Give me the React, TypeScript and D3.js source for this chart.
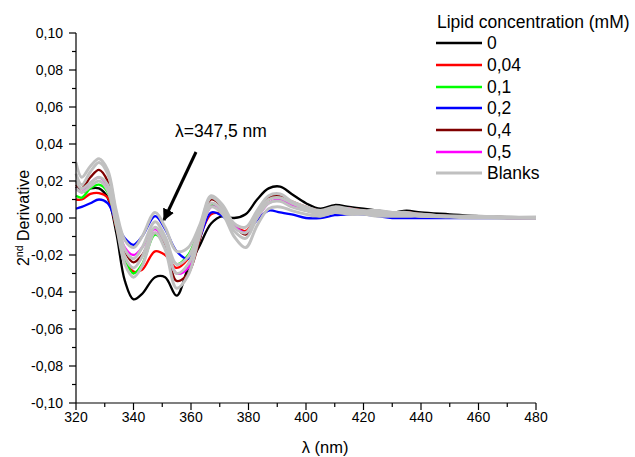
import React from "react";
import * as d3 from "d3";

const wavelengths = [320, 322, 325, 328, 331, 334, 337, 340, 343, 347.5, 351, 355, 359, 363, 367, 371, 375, 379, 383, 387, 391, 395, 400, 405, 410, 415, 420, 425, 430, 435, 440, 450, 460, 470, 480];

const black0 = [0.017, 0.014, 0.016, 0.016, 0.011, -0.008, -0.034, -0.044, -0.041, -0.032, -0.032, -0.042, -0.027, -0.015, -0.003, 0.001, 0.000, 0.002, 0.010, 0.016, 0.017, 0.013, 0.008, 0.005, 0.007, 0.006, 0.005, 0.004, 0.003, 0.004, 0.003, 0.002, 0.001, 0.0005, 0.0005];
const red004 = [0.010, 0.010, 0.013, 0.0135, 0.011, -0.005, -0.022, -0.029, -0.028, -0.018, -0.020, -0.027, -0.022, -0.010, 0.002, 0.002, -0.004, -0.007, 0.002, 0.010, 0.012, 0.009, 0.006, 0.004, 0.005, 0.005, 0.004, 0.003, 0.003, 0.003, 0.002, 0.001, 0.001, 0, 0];
const green01 = [0.012, 0.011, 0.016, 0.018, 0.014, -0.004, -0.022, -0.030, -0.025, -0.009, -0.014, -0.025, -0.020, -0.006, 0.007, 0.004, -0.004, -0.008, 0.001, 0.010, 0.011, 0.007, 0.004, 0.003, 0.004, 0.004, 0.003, 0.003, 0.002, 0.002, 0.001, 0.001, 0.0005, 0, 0];
const blue02 = [0.005, 0.006, 0.008, 0.010, 0.008, -0.002, -0.011, -0.0145, -0.010, 0.001, -0.006, -0.018, -0.022, -0.011, 0.003, 0.001, -0.005, -0.008, -0.001, 0.004, 0.003, 0.002, 0.000, 0.000, 0.0015, 0.002, 0.002, 0.001, 0, 0, 0, 0, 0, 0, 0];
const darkred04 = [0.018, 0.016, 0.022, 0.026, 0.020, 0.000, -0.018, -0.024, -0.020, -0.008, -0.015, -0.034, -0.030, -0.012, 0.010, 0.006, -0.004, -0.009, 0.001, 0.011, 0.012, 0.008, 0.005, 0.004, 0.005, 0.005, 0.004, 0.003, 0.003, 0.002, 0.002, 0.001, 0.001, 0.0005, 0.0005];
const magenta05 = [0.016, 0.014, 0.019, 0.022, 0.017, -0.002, -0.016, -0.020, -0.016, -0.006, -0.013, -0.030, -0.027, -0.010, 0.006, 0.004, -0.004, -0.008, 0.000, 0.008, 0.010, 0.007, 0.004, 0.003, 0.005, 0.005, 0.003, 0.003, 0.002, 0.002, 0.001, 0.001, 0.0005, 0, 0];
const blank1 = [0.030, 0.022, 0.028, 0.032, 0.026, 0.004, -0.012, -0.016, -0.010, 0.003, -0.005, -0.018, -0.016, -0.004, 0.012, 0.007, -0.003, -0.005, 0.004, 0.012, 0.013, 0.009, 0.006, 0.004, 0.006, 0.005, 0.004, 0.004, 0.003, 0.003, 0.002, 0.001, 0.001, 0.0005, 0.0005];
const blank2 = [0.024, 0.018, 0.025, 0.030, 0.024, 0.002, -0.017, -0.022, -0.016, -0.002, -0.010, -0.025, -0.021, -0.006, 0.011, 0.006, -0.005, -0.008, 0.002, 0.010, 0.011, 0.008, 0.005, 0.003, 0.005, 0.004, 0.003, 0.003, 0.003, 0.002, 0.002, 0.001, 0.001, 0.0005, 0];
const blank3 = [0.020, 0.016, 0.019, 0.022, 0.018, -0.001, -0.021, -0.027, -0.021, -0.005, -0.013, -0.030, -0.025, -0.008, 0.008, 0.004, -0.007, -0.011, 0.000, 0.008, 0.009, 0.006, 0.004, 0.002, 0.004, 0.003, 0.003, 0.002, 0.002, 0.002, 0.001, 0.001, 0.0005, 0, 0];
const blank4 = [0.016, 0.014, 0.017, 0.020, 0.015, -0.004, -0.025, -0.032, -0.026, -0.008, -0.017, -0.038, -0.031, -0.010, 0.006, 0.002, -0.010, -0.016, -0.004, 0.005, 0.006, 0.004, 0.002, 0.001, 0.003, 0.002, 0.002, 0.001, 0.001, 0.001, 0.001, 0.0005, 0, 0, 0];

const seriesNames = ["0", "0,04", "0,1", "0,2", "0,4", "0,5", "Blanks"];
const seriesColors = ["#000000", "#ff0000", "#00ff00", "#0000ff", "#800000", "#ff00ff", "#c0c0c0"];
const coloredSeries = [black0, red004, green01, blue02, darkred04, magenta05];
const blankSeries = [blank1, blank2, blank3, blank4];

const xMajorTicks = [320, 340, 360, 380, 400, 420, 440, 460, 480];
const xMinorTicks = [330, 350, 370, 390, 410, 430, 450, 470];
const yMajorTicks = [-0.1, -0.08, -0.06, -0.04, -0.02, 0, 0.02, 0.04, 0.06, 0.08, 0.1];
const yMinorTicks = [-0.09, -0.07, -0.05, -0.03, -0.01, 0.01, 0.03, 0.05, 0.07, 0.09];

const FONT = "Arial, 'Liberation Sans', sans-serif";

export default function App() {
  const x = d3.scaleLinear().domain([320, 480]).range([76, 536]);
  const y = d3.scaleLinear().domain([-0.1, 0.1]).range([403, 33]);
  const line = d3
    .line<number>()
    .x((_, i) => x(wavelengths[i]))
    .y((d) => y(d))
    .curve(d3.curveCatmullRom.alpha(0.5));
  const fmt = (v: number) => d3.format(".2f")(v).replace(".", ",").replace("−", "-");

  const legendX = 436;
  const legendRows = [43, 65, 87, 108, 130, 152, 173];

  return (
    <svg width={635} height={457} style={{ position: "absolute", left: 0, top: 0 }} fontFamily={FONT}>
      <rect width={635} height={457} fill="#fff" />
      {coloredSeries.map((s, i) => (
        <path key={"c" + i} d={line(s) || ""} fill="none" stroke={seriesColors[i]} strokeWidth={2.3} strokeLinejoin="round" />
      ))}
      {blankSeries.map((s, i) => (
        <path key={"b" + i} d={line(s) || ""} fill="none" stroke={seriesColors[6]} strokeWidth={3} strokeLinejoin="round" />
      ))}
      {/* axes */}
      <line x1={76} x2={76} y1={y(0.1)} y2={y(-0.1)} stroke="#000" strokeWidth={1.2} />
      <line x1={76} x2={x(480)} y1={403} y2={403} stroke="#000" strokeWidth={1.2} />
      {yMajorTicks.map((t) => (
        <g key={"ym" + t}>
          <line x1={69} x2={76} y1={y(t)} y2={y(t)} stroke="#000" strokeWidth={1.2} />
          <text x={63} y={y(t)} dy="0.35em" textAnchor="end" fontSize={14}>{fmt(t)}</text>
        </g>
      ))}
      {yMinorTicks.map((t) => (
        <line key={"yn" + t} x1={72} x2={76} y1={y(t)} y2={y(t)} stroke="#000" strokeWidth={1.2} />
      ))}
      {xMajorTicks.map((t) => (
        <g key={"xm" + t}>
          <line x1={x(t)} x2={x(t)} y1={403} y2={410} stroke="#000" strokeWidth={1.2} />
          <text x={x(t)} y={422} textAnchor="middle" fontSize={14}>{t}</text>
        </g>
      ))}
      {xMinorTicks.map((t) => (
        <line key={"xn" + t} x1={x(t)} x2={x(t)} y1={403} y2={407} stroke="#000" strokeWidth={1.2} />
      ))}
      <text x={325} y={453} textAnchor="middle" fontSize={16.5}>λ (nm)</text>
      <text transform="translate(29,218) rotate(-90)" textAnchor="middle" fontSize={16}>
        2<tspan dy={-6} fontSize={10.5}>nd</tspan><tspan dy={6}> Derivative</tspan>
      </text>
      {/* annotation */}
      <text x={175} y={137} fontSize={17.5}>λ=347,5 nm</text>
      <defs>
        <marker id="ah" viewBox="0 0 10 10" refX={9} refY={5} markerWidth={4} markerHeight={4} orient="auto">
          <path d="M0,0 L10,5 L0,10 z" fill="#000" />
        </marker>
      </defs>
      <line x1={196} y1={152} x2={164} y2={220} stroke="#000" strokeWidth={3} markerEnd="url(#ah)" />
      {/* legend */}
      <text x={437} y={28} fontSize={17.5}>Lipid concentration (mM)</text>
      {seriesNames.map((n, i) => (
        <g key={"l" + i}>
          <line x1={legendX} x2={legendX + 46} y1={legendRows[i]} y2={legendRows[i]} stroke={seriesColors[i]} strokeWidth={i === 6 ? 3 : 2.5} />
          <text x={487} y={legendRows[i]} dy="0.36em" fontSize={17.5}>{n}</text>
        </g>
      ))}
    </svg>
  );
}
